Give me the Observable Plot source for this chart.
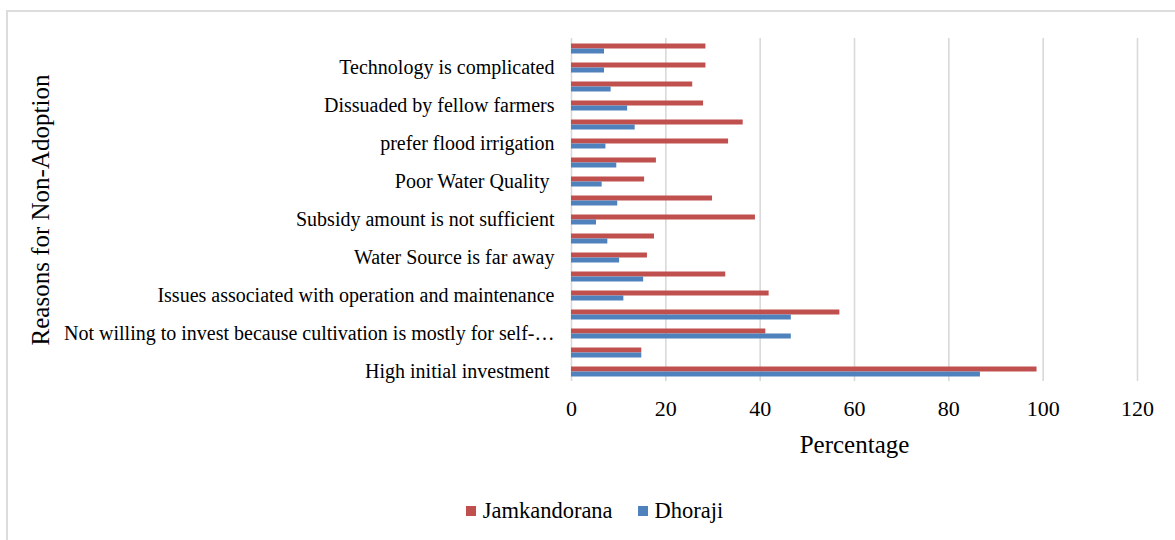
<!DOCTYPE html>
<html>
<head>
<meta charset="utf-8">
<script src="https://cdn.jsdelivr.net/npm/d3@7"></script>
<script src="https://cdn.jsdelivr.net/npm/@observablehq/plot@0.6"></script>
<style>
  html, body { margin: 0; background: #fff; }
  #chart {
    position: relative; width: 1175px; height: 540px; overflow: hidden;
    font-family: "Liberation Serif", "Times New Roman", serif; color: #000;
  }
  #frame {
    position: absolute; left: 6px; top: 10px; width: 1300px; height: 700px;
    border-left: 2px solid #dcdcdc; border-top: 2px solid #dcdcdc; box-sizing: border-box;
  }
  #plot { position: absolute; left: 0; top: 0; }
  #plot svg text { white-space: pre; }
  #legend {
    position: absolute; left: 7px; top: 498px; width: 1175px;
    display: flex; justify-content: center; align-items: center; gap: 25px;
    font-size: 22.5px;
  }
  #legend .item { display: flex; align-items: center; gap: 7px; }
  #legend .sw { width: 10px; height: 10px; display: inline-block; }
</style>
</head>
<body>
<div id="chart">
  <div id="frame"></div>
  <div id="plot"></div>
  <div id="legend"></div>
</div>
<script>
// Reasons listed top to bottom; only every second category carries a visible label.
const reasonLabels = [
  "", "Technology is complicated",
  "", "Dissuaded by fellow farmers",
  "", "prefer flood irrigation",
  "", "Poor Water Quality ",
  "", "Subsidy amount is not sufficient",
  "", "Water Source is far away",
  "", "Issues associated with operation and maintenance",
  "", "Not willing to invest because cultivation is mostly for self-\u2026",
  "", "High initial investment "
];

// Percentage of respondents per reason (same order as above)
const jamkandorana = [28.5, 28.5, 25.7, 28.0, 36.4, 33.3, 18.0, 15.5, 29.9, 39.0, 17.6, 16.1, 32.7, 41.9, 56.9, 41.2, 14.9, 98.7];
const dhoraji      = [7.0, 7.0, 8.4, 11.9, 13.5, 7.3, 9.6, 6.5, 9.8, 5.3, 7.7, 10.2, 15.3, 11.1, 46.6, 46.6, 14.9, 86.7];

const seriesNames = ["Jamkandorana", "Dhoraji"];
const seriesColors = ["#C0504D", "#4F81BD"];
const xTicks = [0, 20, 40, 60, 80, 100, 120];

const rows = reasonLabels.map((label, i) => ({i, jam: jamkandorana[i], dho: dhoraji[i]}));

const chart = Plot.plot({
  width: 1175,
  height: 470,
  marginTop: 38,
  marginBottom: 89,
  marginLeft: 571,
  marginRight: 38,
  style: {fontFamily: "'Liberation Serif', 'Times New Roman', serif", fontSize: "20px", color: "#000", background: "transparent"},
  x: {domain: [0, 120]},
  y: {domain: d3.range(reasonLabels.length), padding: 0},
  marks: [
    Plot.ruleX(xTicks, {stroke: "#d9d9d9", strokeWidth: 1.6}),
    // Jamkandorana bar sits in the upper half of each band, Dhoraji in the lower half
    Plot.barX(rows, {x: "jam", y: "i", fill: seriesColors[0], insetTop: 4.5, insetBottom: 9.5}),
    Plot.barX(rows, {x: "dho", y: "i", fill: seriesColors[1], insetTop: 9.5, insetBottom: 4.5}),
    Plot.axisY({tickSize: 0, tickPadding: 17, fontSize: 20, tickFormat: i => reasonLabels[i], label: null}),
    Plot.axisX(xTicks, {tickSize: 0, tickPadding: 19, fontSize: 22, label: null}),
    Plot.text(["Percentage"], {frameAnchor: "bottom", dy: 71, fontSize: 25}),
    Plot.text(["Reasons for Non-Adoption"], {frameAnchor: "left", dx: -531, rotate: -90, textAnchor: "middle", lineAnchor: "middle", fontSize: 25})
  ]
});
document.getElementById("plot").appendChild(chart);

// Legend below the chart
const legend = document.getElementById("legend");
seriesNames.forEach((name, k) => {
  const item = document.createElement("span");
  item.className = "item";
  const sw = document.createElement("span");
  sw.className = "sw";
  sw.style.background = seriesColors[k];
  const txt = document.createElement("span");
  txt.textContent = name;
  item.appendChild(sw);
  item.appendChild(txt);
  legend.appendChild(item);
});
</script>
</body>
</html>
